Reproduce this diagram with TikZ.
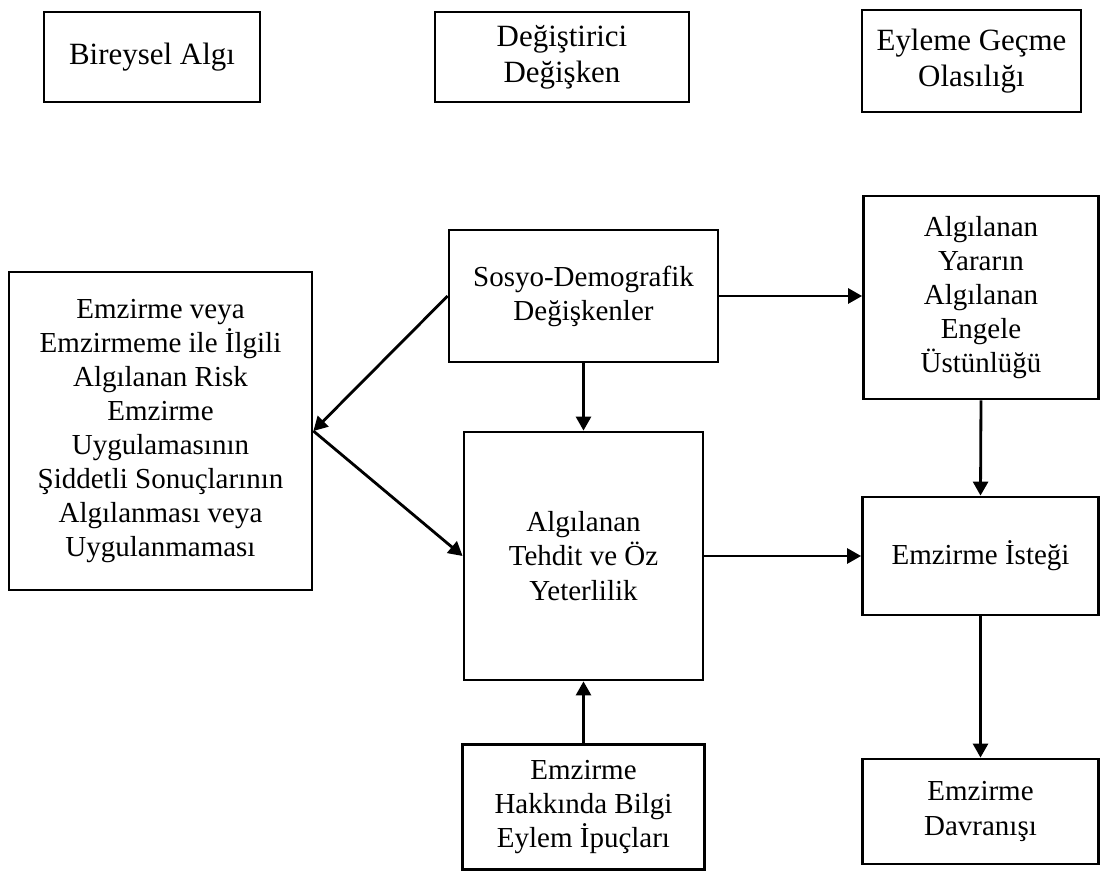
\documentclass[tikz,border=0pt]{standalone}
\usepackage{fontspec}
\setmainfont{Liberation Serif}
\usepackage{tikz}
\usetikzlibrary{arrows.meta,positioning}

\begin{document}
\begin{tikzpicture}[font=\fontsize{16.5}{19.4}\selectfont,
 box/.style={draw,line width=1.6pt,align=center,inner sep=0pt},
 head/.style={box,font=\fontsize{17.6}{20.4}\selectfont},
 arr/.style={-{Triangle[length=0.28cm,width=0.3cm]},line width=1.6pt}]
\useasboundingbox (0,0) rectangle (22.04,-17.44);
% top row
\node[head,minimum width=4.32cm,minimum height=1.8cm] (bireysel) at (3.04,-1.14) {Bireysel Algı};
\node[head,minimum width=5.08cm,minimum height=1.8cm] (degistirici) at (11.24,-1.14) {Değiştirici\\Değişken};
\node[head,minimum width=4.38cm,minimum height=2.04cm] (eyleme) at (19.43,-1.22) {Eyleme Geçme\\Olasılığı};
% model
\node[box,minimum width=6.06cm,minimum height=6.36cm] (risk) at (3.21,-8.62) {Emzirme veya\\Emzirmeme ile İlgili\\Algılanan Risk\\Emzirme\\Uygulamasının\\Şiddetli Sonuçlarının\\Algılanması veya\\Uygulanmaması};
\node[box,minimum width=5.38cm,minimum height=2.64cm] (sosyo) at (11.67,-5.92) {Sosyo-Demografik\\Değişkenler};
\node[box,minimum width=4.7cm,minimum height=4.06cm] (yarar) at (19.62,-5.95) {Algılanan\\Yararın\\Algılanan\\Engele\\Üstünlüğü};
\node[box,minimum width=4.72cm,minimum height=2.36cm] (istek) at (19.61,-11.12) {Emzirme İsteği};
\node[box,minimum width=4.78cm,minimum height=4.96cm] (tehdit) at (11.67,-11.12) {Algılanan\\Tehdit ve Öz\\Yeterlilik};
\node[box,minimum width=4.84cm,minimum height=2.5cm] (bilgi) at (11.67,-16.14) {Emzirme\\Hakkında Bilgi\\Eylem İpuçları};
\node[box,minimum width=4.72cm,minimum height=2.1cm] (davranis) at (19.61,-16.23) {Emzirme\\Davranışı};
\foreach \a/\b in {sosyo.west/risk.east,risk.east/tehdit.west,sosyo.south/tehdit.north,tehdit.east/istek.west,yarar.south/istek.north,istek.south/davranis.north,bilgi.north/tehdit.south} \draw[arr] (\a)--(\b);
\draw[arr] (sosyo.east) -- (sosyo.east -| yarar.west);
\end{tikzpicture}
\end{document}
